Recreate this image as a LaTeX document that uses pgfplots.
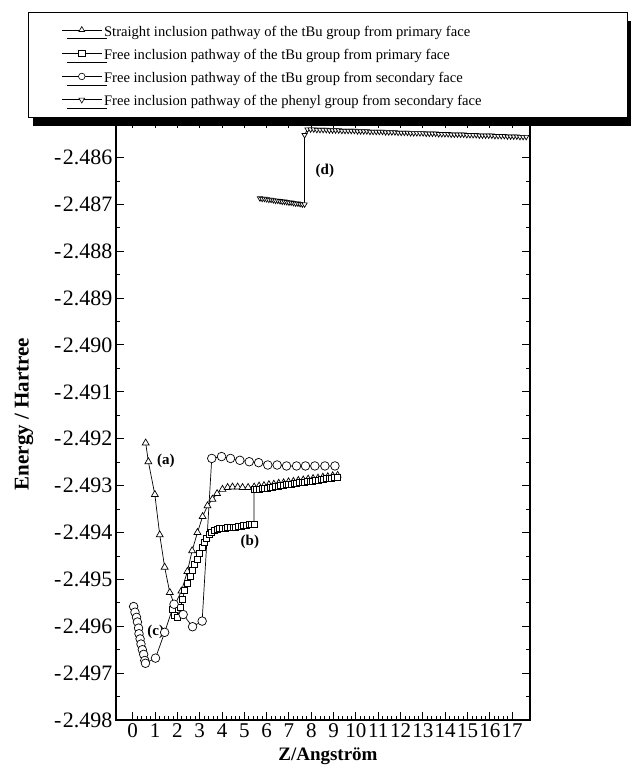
\documentclass[border=0pt]{standalone}
\usepackage{pgfplots}
\pgfplotsset{compat=1.18}
\usepackage{fontspec}
\setmainfont{Liberation Serif}
\usetikzlibrary{shadows}

\begin{document}
\begin{tikzpicture}[x=1pt,y=1pt]
\path[use as bounding box] (0,0) rectangle (631,772);
\begin{axis}[
  at={(116pt,52pt)}, anchor=south west,
  scale only axis, width=414pt, height=600pt,
  xmin=-0.75, xmax=17.8, ymin=-2.498, ymax=-2.4852,
  xtick={0,...,17}, minor x tick num=4,
  ytick={-2.498,-2.497,-2.496,-2.495,-2.494,-2.493,-2.492,-2.491,-2.490,-2.489,-2.488,-2.487,-2.486},
  yticklabels={{-\kern1.5pt 2.498},{-\kern1.5pt 2.497},{-\kern1.5pt 2.496},{-\kern1.5pt 2.495},{-\kern1.5pt 2.494},{-\kern1.5pt 2.493},{-\kern1.5pt 2.492},{-\kern1.5pt 2.491},{-\kern1.5pt 2.490},{-\kern1.5pt 2.489},{-\kern1.5pt 2.488},{-\kern1.5pt 2.487},{-\kern1.5pt 2.486}},
  minor y tick num=1,
  tick align=inside, xtick pos=both, ytick pos=both,
  xticklabel pos=lower, yticklabel pos=left,
  major tick length=8pt, minor tick length=4pt,
  axis line style={line width=1.8pt},
  every tick/.append style={line width=1pt, black},
  every minor tick/.append style={line width=0.8pt, black},
  /pgf/number format/assume math mode=true,
  xticklabel style={font=\fontsize{21}{24}\selectfont},
  yticklabel style={font=\fontsize{22}{25}\selectfont},
  xlabel={Z/Angström},
  ylabel={Energy / Hartree},
  xlabel style={font=\fontsize{19}{22}\selectfont\bfseries, at={(axis description cs:0.512,-0.06)}, anchor=center},
  ylabel style={font=\fontsize{21}{24}\selectfont\bfseries, at={(axis description cs:-0.222,0.51)}, anchor=center},
  legend cell align=left,
  legend image code/.code={\draw[mark repeat=2,mark phase=2,#1,mark size=3.3pt,line width=0.6pt] plot coordinates {(0pt,0pt) (20pt,0pt) (40pt,0pt)};},
  legend style={at={(axis description cs:-0.2126,1)}, anchor=south west, yshift=2pt,
    draw=black, line width=1pt, fill=white,
    font=\fontsize{14.6}{17}\selectfont,
    inner xsep=33pt, inner ysep=8pt, row sep=3.8pt,
    nodes={inner xsep=2pt, inner ysep=2pt, text height=14pt, text depth=1.5pt},
    drop shadow={shadow xshift=5pt, shadow yshift=-9pt, fill=black, opacity=1}},
]
% (a) straight inclusion, tBu, primary face
\addplot[black, line width=0.7pt, mark=triangle*, mark size=4pt, mark options={fill=white, solid}] coordinates {
(0.58,-2.49209) (0.70,-2.49249) (0.99,-2.49319) (1.21,-2.49405) (1.43,-2.49474) (1.66,-2.49528)
(1.88,-2.49555) (2.18,-2.49525) (2.45,-2.49483) (2.66,-2.49439) (2.90,-2.49400) (3.13,-2.49366)
(3.35,-2.49343) (3.57,-2.49329) (3.78,-2.49317) (4.02,-2.49308) (4.25,-2.49304) (4.47,-2.49303)
(4.70,-2.49303) (4.92,-2.49304) (5.17,-2.49304) (5.44,-2.49303) (5.66,-2.49301) (5.88,-2.49300)
(6.10,-2.49298) (6.32,-2.49297) (6.54,-2.49295) (6.76,-2.49294) (6.98,-2.49292) (7.20,-2.49291)
(7.42,-2.49289) (7.64,-2.49288) (7.86,-2.49286) (8.08,-2.49285) (8.30,-2.49284) (8.52,-2.49282)
(8.74,-2.49281) (8.96,-2.49279) (9.18,-2.49278)
};
\addlegendentry{\makebox[488pt][l]{Straight inclusion pathway of the tBu group from primary face}}
% (b) free inclusion, tBu, primary face
\addplot[black, line width=0.7pt, mark=square*, mark size=3pt, mark options={fill=white, solid}] coordinates {
(1.78,-2.49563) (1.88,-2.49577) (1.99,-2.49581) (2.14,-2.49560) (2.23,-2.49542) (2.33,-2.49523)
(2.43,-2.49508) (2.56,-2.49494) (2.66,-2.49481) (2.78,-2.49469) (2.88,-2.49457) (3.00,-2.49444)
(3.11,-2.49432) (3.20,-2.49421) (3.30,-2.49412) (3.42,-2.49404) (3.53,-2.49399) (3.65,-2.49395)
(3.77,-2.49393) (3.89,-2.49392) (4.01,-2.49392) (4.13,-2.49391) (4.25,-2.49390) (4.37,-2.49389)
(4.49,-2.49389) (4.61,-2.49388) (4.73,-2.49387) (4.85,-2.49386) (4.97,-2.49385) (5.09,-2.49384)
(5.21,-2.49383) (5.33,-2.49382) (5.43,-2.49382)
(5.43,-2.49309) (5.55,-2.49308) (5.67,-2.49307) (5.79,-2.49306) (5.91,-2.49305) (6.03,-2.49305)
(6.15,-2.49304) (6.27,-2.49303) (6.39,-2.49302) (6.51,-2.49301) (6.63,-2.49300) (6.75,-2.49299)
(6.87,-2.49298) (6.99,-2.49297) (7.11,-2.49297) (7.23,-2.49296) (7.35,-2.49295) (7.47,-2.49294)
(7.59,-2.49293) (7.71,-2.49292) (7.83,-2.49291) (7.95,-2.49290) (8.07,-2.49290) (8.19,-2.49289)
(8.31,-2.49288) (8.43,-2.49287) (8.55,-2.49286) (8.67,-2.49285) (8.79,-2.49284) (8.91,-2.49284)
(9.03,-2.49283) (9.15,-2.49283)
};
\addlegendentry{\makebox[488pt][l]{Free inclusion pathway of the tBu group from primary face}}
% (c) free inclusion, tBu, secondary face
\addplot[black, line width=0.7pt, mark=*, mark size=4.3pt, mark options={fill=white, solid}] coordinates {
(0.04,-2.49558) (0.10,-2.49570) (0.17,-2.49581) (0.21,-2.49591) (0.26,-2.49604) (0.28,-2.49616)
(0.33,-2.49627) (0.37,-2.49638) (0.43,-2.49650) (0.49,-2.49660) (0.54,-2.49673) (0.57,-2.49679)
(1.02,-2.49668) (1.43,-2.49613) (1.85,-2.49553) (2.26,-2.49575) (2.68,-2.49601) (3.11,-2.49589)
(3.54,-2.49242) (3.98,-2.49238) (4.38,-2.49242) (4.80,-2.49246) (5.22,-2.49249) (5.64,-2.49251)
(6.05,-2.49256) (6.47,-2.49256) (6.89,-2.49258) (7.34,-2.49258) (7.74,-2.49258) (8.16,-2.49258)
(8.61,-2.49258) (9.06,-2.49258)
};
\addlegendentry{\makebox[488pt][l]{Free inclusion pathway of the tBu group from secondary face}}
% (d) free inclusion, phenyl, secondary face
\addplot[black, line width=0.7pt, mark=triangle*, mark size=3pt, mark options={fill=white, solid, rotate=180}] coordinates {
(5.70,-2.48687) (5.80,-2.48688) (5.90,-2.48688) (6.00,-2.48689) (6.10,-2.48690) (6.20,-2.48690)
(6.30,-2.48691) (6.40,-2.48692) (6.50,-2.48692) (6.60,-2.48693) (6.70,-2.48694) (6.80,-2.48694)
(6.90,-2.48695) (7.00,-2.48696) (7.10,-2.48696) (7.20,-2.48697) (7.30,-2.48698) (7.40,-2.48698)
(7.50,-2.48699) (7.60,-2.48700) (7.70,-2.48700)
(7.70,-2.48552)
(7.83,-2.48540) (7.97,-2.48540) (8.11,-2.48540) (8.25,-2.48541) (8.39,-2.48541) (8.53,-2.48541)
(8.67,-2.48541) (8.81,-2.48542) (8.95,-2.48542) (9.09,-2.48542) (9.23,-2.48542) (9.37,-2.48543)
(9.51,-2.48543) (9.65,-2.48543) (9.79,-2.48543) (9.93,-2.48543) (10.07,-2.48544) (10.21,-2.48544)
(10.35,-2.48544) (10.49,-2.48544) (10.63,-2.48545) (10.77,-2.48545) (10.91,-2.48545) (11.05,-2.48545)
(11.19,-2.48545) (11.33,-2.48546) (11.47,-2.48546) (11.61,-2.48546) (11.75,-2.48546) (11.89,-2.48547)
(12.03,-2.48547) (12.17,-2.48547) (12.31,-2.48547) (12.45,-2.48548) (12.59,-2.48548) (12.73,-2.48548)
(12.87,-2.48548) (13.01,-2.48548) (13.15,-2.48549) (13.29,-2.48549) (13.43,-2.48549) (13.57,-2.48549)
(13.71,-2.48550) (13.85,-2.48550) (13.99,-2.48550) (14.13,-2.48550) (14.27,-2.48551) (14.41,-2.48551)
(14.55,-2.48551) (14.69,-2.48551) (14.83,-2.48551) (14.97,-2.48552) (15.11,-2.48552) (15.25,-2.48552)
(15.39,-2.48552) (15.53,-2.48553) (15.67,-2.48553) (15.81,-2.48553) (15.95,-2.48553) (16.09,-2.48553)
(16.23,-2.48554) (16.37,-2.48554) (16.51,-2.48554) (16.65,-2.48554) (16.79,-2.48555) (16.93,-2.48555)
(17.07,-2.48555) (17.21,-2.48555) (17.35,-2.48556) (17.49,-2.48556) (17.63,-2.48556)
};
\addlegendentry{\makebox[488pt][l]{Free inclusion pathway of the phenyl group from secondary face}}

\node[font=\fontsize{15}{17}\selectfont\bfseries] at (axis cs:1.48,-2.49247) {(a)};
\node[font=\fontsize{15}{17}\selectfont\bfseries] at (axis cs:5.25,-2.49421) {(b)};
\node[font=\fontsize{15}{17}\selectfont\bfseries] at (axis cs:1.03,-2.49613) {(c)};
\node[font=\fontsize{15}{17}\selectfont\bfseries] at (axis cs:8.61,-2.48628) {(d)};
\end{axis}
\end{tikzpicture}
\end{document}
